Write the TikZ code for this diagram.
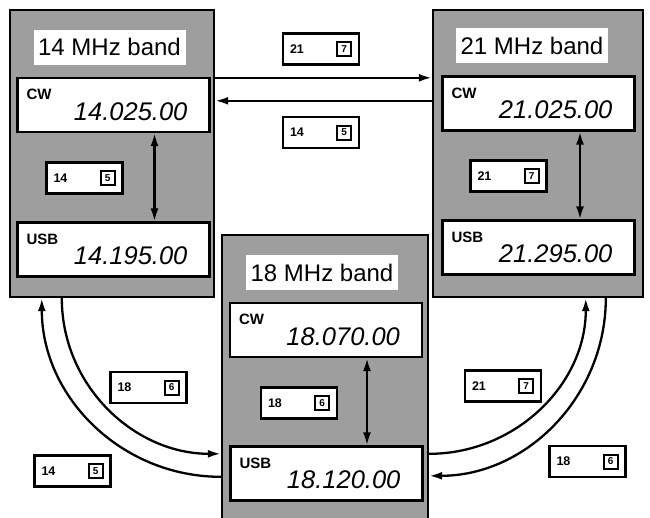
\documentclass[tikz,border=0pt]{standalone}
\usepackage{fontspec}
\setmainfont{Liberation Sans}
\usetikzlibrary{arrows.meta,calc}
\tikzset{
  bandbox/.style={draw=black, line width=2.4pt, fill=black!38, inner sep=0pt},
  titlebox/.style={fill=white, inner sep=0pt, minimum width=152pt, minimum height=35pt, font=\fontsize{24}{24}\selectfont},
  freqbox/.style={draw=black, fill=white, line width=2.2pt, minimum width=192pt, minimum height=54pt, inner sep=0pt},
  modetxt/.style={font=\bfseries\fontsize{15}{15}\selectfont, inner sep=0pt, anchor=north west},
  freqtxt/.style={font=\itshape\fontsize{25.5}{25.5}\selectfont, inner sep=0pt, anchor=base east},
  keybox/.style={draw=black, fill=white, line width=2.4pt, minimum width=76pt, minimum height=31pt, inner sep=0pt},
  keynum/.style={font=\bfseries\fontsize{12.5}{12.5}\selectfont, inner sep=0pt, anchor=west},
  keycap/.style={draw=black, line width=2pt, minimum width=14pt, minimum height=14pt, inner sep=0pt, font=\bfseries\fontsize{10}{10}\selectfont, anchor=east},
  conn/.style={line width=2.3pt, -{Latex[length=13pt,width=8pt]}},
  dconn/.style={line width=2.3pt, {Latex[length=13pt,width=8pt]}-{Latex[length=13pt,width=8pt]}}
}
\begin{document}
\begin{tikzpicture}[x=1pt,y=1pt]
\useasboundingbox (0,0) rectangle (650,-517);
\clip (0,0) rectangle (650,-517);
\fill[white] (0,0) rectangle (650,-517);

% bands
\node[bandbox, minimum width=204pt, minimum height=287pt] (band14) at (112,-153.5) {};
\node[bandbox, minimum width=210pt, minimum height=287pt] (band21) at (538,-153.5) {};
\node[bandbox, minimum width=206pt, minimum height=300pt] (band18) at (325,-385) {};

% titles
\node[titlebox] (t14) at (109.5,-47) {14 MHz band};
\node[titlebox] (t21) at (532,-45.5) {21 MHz band};
\node[titlebox] (t18) at (322,-272.5) {18 MHz band};

% frequency boxes
\node[freqbox] (cw14) at (113.5,-105) {};
\node[freqbox] (usb14) at (113.5,-249.5) {};
\node[freqbox] (cw21) at (538.5,-103.5) {};
\node[freqbox] (usb21) at (538.5,-247.5) {};
\node[freqbox] (cw18) at (326,-330) {};
\node[freqbox] (usb18) at (326.5,-473.5) {};

\foreach \b/\m/\f in {cw14/CW/14.025.00, usb14/USB/14.195.00, cw21/CW/21.025.00, usb21/USB/21.295.00, cw18/CW/18.070.00, usb18/USB/18.120.00}{
  \node[modetxt] (\b-m) at ($(\b.north west)+(10,-12)$) {\m};
  \node[freqtxt] (\b-f) at ($(\b.south east)+(-23,13)$) {\f};
}

% key labels
\foreach \n/\x/\y/\a/\k in {ka/321/49/21/7, kb/321/132.5/14/5, kc/84.5/178/14/5, kd/508.5/176/21/7, ke/299/403/18/6, kf/148.5/387.5/18/6, kg/72.5/471/14/5, kh/503/386/21/7, ki/587.5/461.5/18/6}{
  \node[keybox] (\n) at (\x,-\y) {};
  \node[keynum] (\n-n) at ($(\n.west)+(8,0)$) {\a};
  \node[keycap] (\n-k) at ($(\n.east)+(-8,0)$) {\k};
}

% connectors between bands (top)
\draw[conn] ($(band14.north east)+(0,-69)$) -- ($(band21.north west)+(0,-69)$);
\draw[conn] ($(band21.north west)+(0,-92)$) -- ($(band14.north east)+(0,-92)$);

% within-band double arrows
\draw[dconn] ($(cw14.south)+(41,0)$) -- ($(usb14.north)+(41,0)$);
\draw[dconn] ($(cw21.south)+(41.5,0)$) -- ($(usb21.north)+(41.5,0)$);
\draw[dconn] ($(cw18.south)+(41,0)$) -- ($(usb18.north)+(40.5,0)$);

% arcs
\draw[conn] ($(band18.north west)+(0,-243)$) to[out=180,in=-90] ($(band14.south west)+(33,0)$);
\draw[conn] ($(band14.south west)+(53,0)$) to[out=-90,in=180] ($(band18.north west)+(0,-220)$);
\draw[conn] ($(band18.north east)+(0,-220)$) to[out=0,in=-90] ($(band21.south west)+(154,0)$);
\draw[conn] ($(band21.south west)+(174,0)$) to[out=-90,in=0] ($(band18.north east)+(0,-242)$);
\end{tikzpicture}
\end{document}
